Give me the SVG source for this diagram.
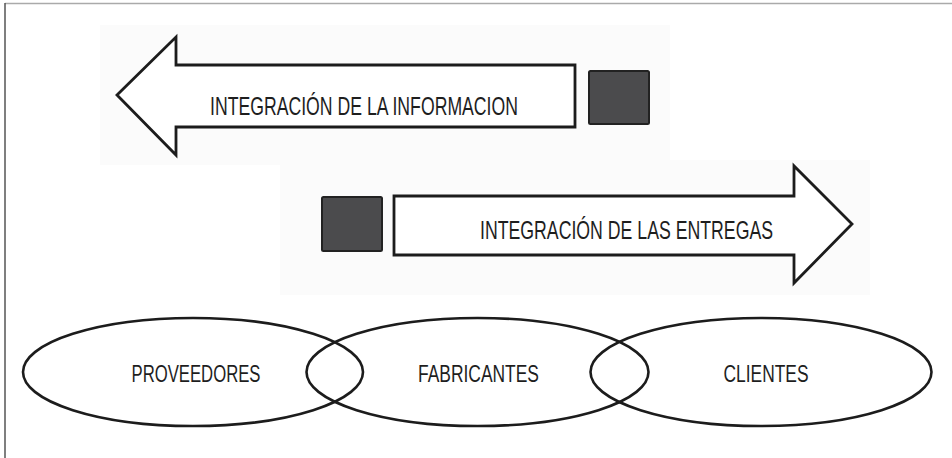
<svg xmlns="http://www.w3.org/2000/svg" width="952" height="458" viewBox="0 0 952 458">
<style>
.arrow{fill:#ffffff;stroke:#1c1c1c;stroke-width:2.8;stroke-linejoin:miter}
.sq{fill:#4b4b4d;stroke:#222222;stroke-width:2}
.ell{fill:none;stroke:#1c1c1c;stroke-width:2.6}
.lbl{font-family:"Liberation Sans Narrow","Liberation Sans",Arial,sans-serif;fill:#1e1e1e}
.big{font-size:26px}
.mid{font-size:23px}
</style>
<rect x="0" y="0" width="952" height="458" fill="#ffffff"/>
<g id="frame">
<line x1="5" y1="3.5" x2="952" y2="3.5" stroke="#aaaaaa" stroke-width="1.5"/>
<line x1="5" y1="3" x2="5" y2="458" stroke="#555555" stroke-width="1.5"/>
</g>
<g id="backdrop">
<rect x="100" y="25" width="570" height="140" fill="#fbfbfb"/>
<rect x="280" y="160" width="590" height="135" fill="#fbfbfb"/>
</g>
<g id="arrow-informacion">
<polygon class="arrow" points="117,95 176,37 176,65 575,65 575,127 176,127 176,155"/>
<text class="lbl big" x="210" y="115" textLength="308" lengthAdjust="spacingAndGlyphs">INTEGRACIÓN DE LA INFORMACION</text>
</g>
<g id="square-informacion">
<rect class="sq" x="589" y="71" width="60" height="53" rx="1.5"/>
</g>
<g id="arrow-entregas">
<polygon class="arrow" points="394,196 794,196 794,166 852,224 794,283 794,255 394,255"/>
<text class="lbl big" x="480" y="239" textLength="293" lengthAdjust="spacingAndGlyphs">INTEGRACIÓN DE LAS ENTREGAS</text>
</g>
<g id="square-entregas">
<rect class="sq" x="322" y="197" width="60" height="54" rx="1.5"/>
</g>
<g id="proveedores">
<ellipse class="ell" cx="193" cy="372" rx="170" ry="54"/>
<text class="lbl mid" x="196" y="381.5" text-anchor="middle" textLength="129" lengthAdjust="spacingAndGlyphs">PROVEEDORES</text>
</g>
<g id="fabricantes">
<ellipse class="ell" cx="477.5" cy="372" rx="171" ry="54"/>
<text class="lbl mid" x="478.5" y="381.5" text-anchor="middle" textLength="121" lengthAdjust="spacingAndGlyphs">FABRICANTES</text>
</g>
<g id="clientes">
<ellipse class="ell" cx="761" cy="372" rx="170.5" ry="54"/>
<text class="lbl mid" x="766" y="381.5" text-anchor="middle" textLength="85" lengthAdjust="spacingAndGlyphs">CLIENTES</text>
</g>
<g id="connectors"/>
</svg>
